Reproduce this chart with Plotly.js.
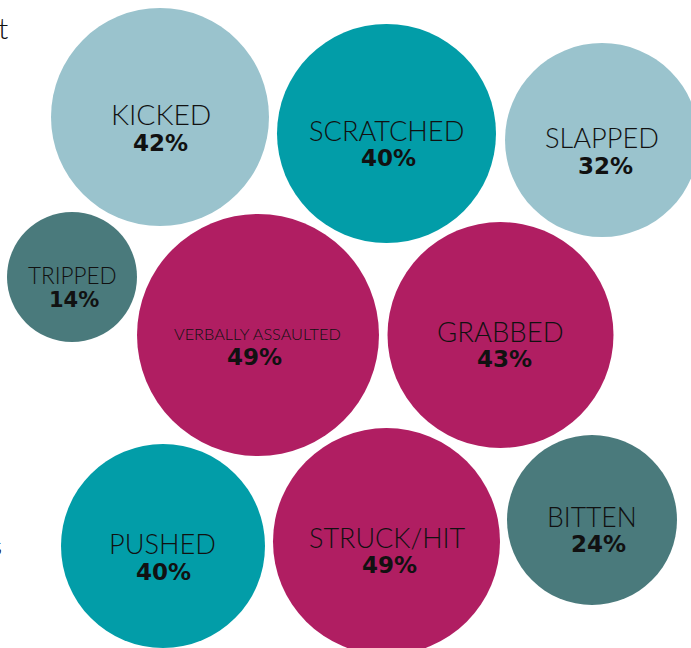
<!DOCTYPE html>
<html>
<head>
<meta charset="utf-8">
<script src="https://cdn.plot.ly/plotly-3.0.1.min.js"></script>
<style>html,body{margin:0;padding:0;background:#fff;}#chart{width:691px;height:648px;}</style>
</head>
<body>
<div id="chart"></div>
<script>
// Data
var categories = ["KICKED", "SCRATCHED", "SLAPPED", "TRIPPED", "VERBALLY ASSAULTED", "GRABBED", "PUSHED", "STRUCK/HIT", "BITTEN"];
var values = [42, 40, 32, 14, 49, 43, 40, 49, 24];

// Layout (positions, sizes, styles)
var cx = [160, 386.5, 602, 72, 258, 500.5, 163, 386.5, 592];
var cy = [117, 133.5, 140, 277, 335, 335, 546, 541.5, 520];
var rad = [109, 109.5, 97, 65, 121, 113, 102, 113.5, 85];
var fills = ["#9AC3CD", "#029DA8", "#9AC3CD", "#4A7A7C", "#B01E62", "#B01E62", "#029DA8", "#B01E62", "#4A7A7C"];
var labelSize = [28.3, 27.2, 27.2, 22.5, 16.3, 27.5, 27.2, 27, 26.5];
var pctSize = [23, 23, 23, 21, 23, 23, 23, 23, 23];
var labelY = [114.25, 130.15, 137.3, 275, 333, 331, 543, 537, 516.5];
var pctY = [143.25, 158.45, 166, 300, 357, 359.3, 572, 565, 544];
var labelDx = [0.5, 0, 0.2, 0.8, -0.2, 0, -0.3, 0.5, 0];
var pctDx = [0.5, 1.5, 3.3, 1.8, -3.2, 3.5, 0.8, 3, 6.5];

var shapes = categories.map(function (c, i) {
  return {
    type: "circle", xref: "x", yref: "y",
    x0: cx[i] - rad[i], x1: cx[i] + rad[i],
    y0: cy[i] - rad[i], y1: cy[i] + rad[i],
    fillcolor: fills[i], line: {width: 0}, layer: "below"
  };
});

var annotations = [];
categories.forEach(function (c, i) {
  annotations.push({
    x: cx[i] + labelDx[i], y: labelY[i], xref: "x", yref: "y",
    text: c, showarrow: false, xanchor: "center", yanchor: "middle",
    font: {family: "Lato, 'Open Sans', sans-serif", size: labelSize[i], color: "#111", weight: 300}
  });
  annotations.push({
    x: cx[i] + pctDx[i], y: pctY[i], xref: "x", yref: "y",
    text: values[i] + "%", showarrow: false, xanchor: "center", yanchor: "middle",
    font: {family: "'DejaVu Sans', Lato, sans-serif", size: pctSize[i], color: "#111", weight: 700}
  });
});
// cut-off text fragments on the left edge
annotations.push({x: 10, y: 27, xref: "x", yref: "y", text: "t", showarrow: false, xanchor: "right", yanchor: "middle",
  font: {family: "Lato, sans-serif", size: 30, color: "#111", weight: 300}});
annotations.push({x: 3, y: 172, xref: "x", yref: "y", text: ",", showarrow: false, xanchor: "right", yanchor: "middle",
  font: {family: "Lato, sans-serif", size: 26, color: "#111", weight: 300}});
annotations.push({x: 4, y: 545, xref: "x", yref: "y", text: "s", showarrow: false, xanchor: "right", yanchor: "middle",
  font: {family: "Lato, sans-serif", size: 26, color: "#111", weight: 300}});

var trace = {
  x: cx, y: cy, type: "scatter", mode: "markers",
  marker: {size: 1, opacity: 0}, hoverinfo: "skip", showlegend: false
};

var layout = {
  width: 691, height: 648,
  margin: {l: 0, r: 0, t: 0, b: 0},
  paper_bgcolor: "#fff", plot_bgcolor: "#fff",
  xaxis: {range: [0, 691], visible: false, fixedrange: true},
  yaxis: {range: [648, 0], visible: false, fixedrange: true},
  shapes: shapes, annotations: annotations, showlegend: false
};

Plotly.newPlot("chart", [trace], layout, {staticPlot: true, displayModeBar: false});
</script>
</body>
</html>
